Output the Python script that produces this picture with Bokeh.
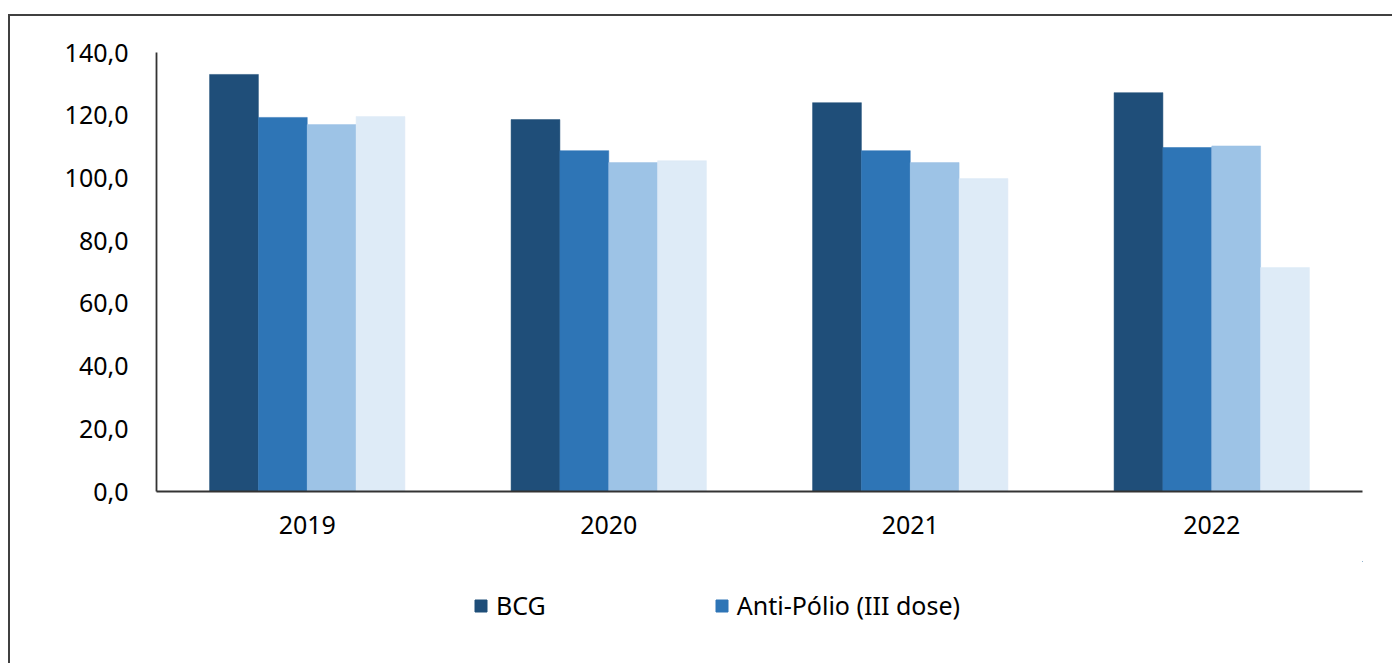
from bokeh.plotting import figure
from bokeh.layouts import column
from bokeh.models import FactorRange, Range1d, FixedTicker, Legend, LegendItem, ColumnDataSource
from bokeh.transform import dodge
from bokeh.embed import file_html
from bokeh.resources import INLINE

years = ["2019", "2020", "2021", "2022"]
bcg = [133.0, 118.6, 124.0, 127.2]
anti_polio = [119.3, 108.7, 108.7, 109.7]
serie3 = [117.0, 104.9, 104.9, 110.2]
serie4 = [119.6, 105.5, 99.8, 71.4]
legend_labels = ["BCG", "Anti-Pólio (III dose)"]
y_ticks = [0, 20, 40, 60, 80, 100, 120, 140]
y_tick_labels = ["0,0", "20,0", "40,0", "60,0", "80,0", "100,0", "120,0", "140,0"]

colors = ["#1F4E79", "#2E75B6", "#9DC3E6", "#DEEBF7"]
FONT = "Noto Sans"
FS = "25px"

src = ColumnDataSource(dict(x=years, bcg=bcg, ap=anti_polio, s3=serie3, s4=serie4))

W = 1382
H1 = 545
H2 = 102

p = figure(width=W, height=H1, x_range=FactorRange(*years, range_padding=0),
           y_range=Range1d(0, 140), output_backend="svg", toolbar_location=None,
           min_border_left=146, min_border_right=30, min_border_top=36, min_border_bottom=70)
p.outline_line_color = None
p.xgrid.grid_line_color = None
p.ygrid.grid_line_color = None

bw = 0.162
offs = [-1.5 * bw, -0.5 * bw, 0.5 * bw, 1.5 * bw]
for col, off, c in zip(["bcg", "ap", "s3", "s4"], offs, colors):
    p.vbar(x=dodge("x", off, range=p.x_range), top=col, width=bw, source=src,
           fill_color=c, line_color=c, line_width=0.5)

p.yaxis.ticker = FixedTicker(ticks=y_ticks)
p.yaxis.major_label_overrides = {t: l for t, l in zip(y_ticks, y_tick_labels)}
for ax in (p.xaxis[0], p.yaxis[0]):
    ax.axis_line_color = "#333333"
    ax.axis_line_width = 1.8
    ax.major_tick_line_color = None
    ax.minor_tick_line_color = None
    ax.major_label_text_font = FONT
    ax.major_label_text_font_size = FS
    ax.major_label_text_color = "#000000"
p.yaxis.major_label_standoff = 22
p.xaxis.major_label_standoff = 18

# legend strip below the chart (its frame aligns with the chart's frame)
q = figure(width=W, height=H2, x_range=Range1d(0, 1), y_range=Range1d(0, 1),
           x_axis_type=None, y_axis_type=None, output_backend="svg", toolbar_location=None,
           min_border=0)
q.outline_line_color = None
q.xgrid.visible = False
q.ygrid.visible = False
lr = [q.vbar(x=[5], top=[5], bottom=[4], width=0.1, fill_color=c, line_color=c) for c in colors[:2]]
legend = Legend(items=[LegendItem(label=legend_labels[0], renderers=[lr[0]]),
                       LegendItem(label=legend_labels[1], renderers=[lr[1]])],
                orientation="horizontal", location=(317, 41),
                label_text_font=FONT, label_text_font_size=FS, label_text_color="#000000",
                glyph_width=15, glyph_height=15, label_standoff=8, spacing=168,
                border_line_color=None, background_fill_alpha=0, padding=0, margin=0)
q.add_layout(legend, "center")

inner = column(p, q, spacing=0)
inner.styles = {"border-left": "2px solid #404040", "border-top": "2px solid #404040"}
outer = column(inner, spacing=0)
outer.styles = {"padding-left": "8px", "padding-top": "14px"}

open("out.html", "w").write(file_html(outer, INLINE))
